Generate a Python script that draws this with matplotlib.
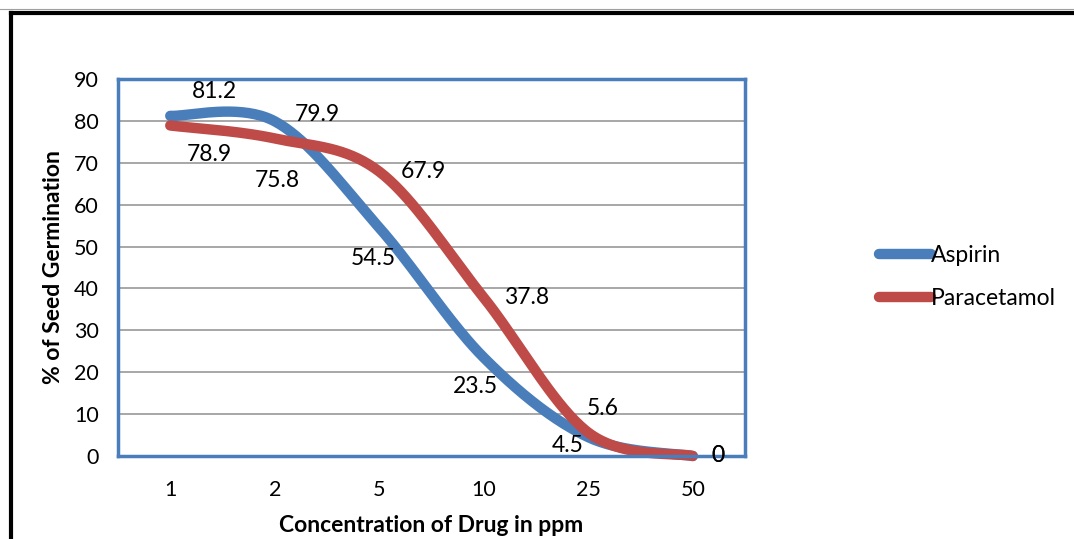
import numpy as np
import matplotlib.pyplot as plt
from matplotlib.lines import Line2D

plt.rcParams['font.family'] = ['Lato', 'DejaVu Sans']

# data
concentrations = ['1', '2', '5', '10', '25', '50']
aspirin = [81.2, 79.9, 54.5, 23.5, 4.5, 0]
paracetamol = [78.9, 75.8, 67.9, 37.8, 5.6, 0]

# label offsets (pixels) to mimic the original placement
aspirin_off = [(44, 24), (43, 7), (-6, -31), (-8, -29), (-21, -8), (25, 0)]
paracetamol_off = [(39, -29), (3, -42), (44, 0), (43, 0), (15, 24), (25, 0)]

blue = '#4A7EBB'
red = '#BE4B48'


def smooth(y, n=40):
    """Excel style smoothed line (Catmull-Rom as cubic bezier)"""
    x = np.arange(len(y), dtype=float)
    p = np.column_stack([x, np.asarray(y, dtype=float)])
    p = np.vstack([p[0], p, p[-1]])
    t = np.linspace(0, 1, n)[:, None]
    out = []
    for i in range(1, len(p) - 2):
        p0 = p[i]
        p3 = p[i + 1]
        c1 = p0 + (p[i + 1] - p[i - 1]) / 6
        c2 = p3 - (p[i + 2] - p[i]) / 6
        seg = ((1 - t) ** 3) * p0 + 3 * ((1 - t) ** 2) * t * c1 + 3 * (1 - t) * t ** 2 * c2 + t ** 3 * p3
        out.append(seg)
    out = np.vstack(out)
    return out[:, 0], out[:, 1]


fig = plt.figure(figsize=(10.74, 5.39), dpi=100)
ax = fig.add_axes([118 / 1074, 1 - 456 / 539, 627 / 1074, 377 / 539])

lw = 7.5
for vals, col, name in [(aspirin, blue, 'Aspirin'), (paracetamol, red, 'Paracetamol')]:
    sx, sy = smooth(vals)
    ax.plot(sx, sy, color=col, lw=lw, solid_capstyle='round', clip_on=False, zorder=3, label=name)

for vals, offs in [(aspirin, aspirin_off), (paracetamol, paracetamol_off)]:
    for i, v in enumerate(vals):
        txt = '%g' % v
        dx, dy = offs[i]
        ax.annotate(txt, (i, v), xytext=(dx * 0.72, dy * 0.72), textcoords='offset points',
                    ha='center', va='center', fontsize=16.5, zorder=5, annotation_clip=False)

ax.set_xlim(-0.5, 5.5)
ax.set_ylim(0, 90)
ax.set_yticks(range(0, 91, 10))
ax.set_xticks(range(len(concentrations)))
ax.set_xticklabels(concentrations)
ax.tick_params(length=0, labelsize=15.5)
ax.tick_params(axis='y', pad=14)
ax.tick_params(axis='x', pad=17)
ax.grid(axis='y', color='#A0A0A0', lw=1.3, zorder=1)
ax.set_axisbelow(True)
for s in ax.spines.values():
    s.set_color(blue)
    s.set_linewidth(2.5)
    s.set_zorder(4)

ax.set_xlabel('Concentration of Drug in ppm', fontsize=16.5, fontweight='bold', labelpad=11)
ax.set_ylabel('% of Seed Germination', fontsize=16.5, fontweight='bold', labelpad=7)

handles = [Line2D([], [], color=blue, lw=lw, solid_capstyle='round'),
           Line2D([], [], color=red, lw=lw, solid_capstyle='round')]
fig.legend(handles, ['Aspirin', 'Paracetamol'], loc='center left',
           bbox_to_anchor=(858 / 1074, 1 - 277 / 539), frameon=False, fontsize=16.5,
           handlelength=2.3, handletextpad=0.0, labelspacing=0.95)

# outer chart border
fig.add_artist(Line2D([0, 1], [1 - 9 / 539, 1 - 9 / 539], color='#A0A0A0', lw=0.8,
                      transform=fig.transFigure))
fig.add_artist(Line2D([10.5 / 1074, 10.5 / 1074], [0, 1 - 12.5 / 539], color='black', lw=3,
                      transform=fig.transFigure, solid_capstyle='projecting'))
fig.add_artist(Line2D([10.5 / 1074, 1], [1 - 12.5 / 539, 1 - 12.5 / 539], color='black', lw=3,
                      transform=fig.transFigure, solid_capstyle='projecting'))

fig.savefig('out.png', dpi=100)
